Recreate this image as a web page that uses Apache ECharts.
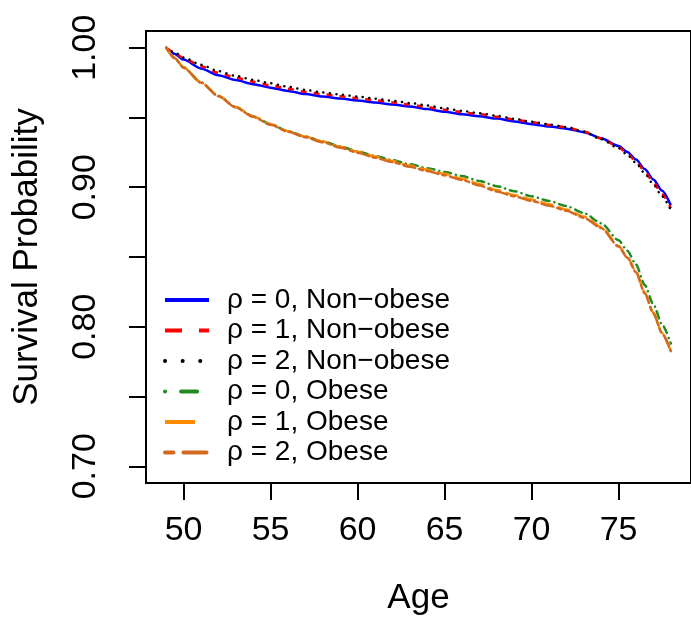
<!DOCTYPE html>
<html>
<head>
<meta charset="utf-8">
<script src="https://cdn.jsdelivr.net/npm/echarts@6/dist/echarts.min.js"></script>
<style>
  html, body { margin: 0; padding: 0; background: #fff; }
  #chart { width: 691px; height: 621px; }
</style>
</head>
<body>
<div id="chart"></div>
<script>
// ages
var ages = [49, 49.5, 50, 51, 52, 53, 54, 55, 56, 57, 58, 59, 60, 61, 62, 63, 64, 65, 66, 67, 68, 69, 70, 71, 72, 73, 74, 75, 75.5, 76, 76.5, 77, 77.5, 78];

// survival curves, one array per group
var nonObeseRho0 = [1.000, 0.9956, 0.9915, 0.9852, 0.9803, 0.9768, 0.9739, 0.9714, 0.9690, 0.9668, 0.9650, 0.9636, 0.9622, 0.9607, 0.9593, 0.9578, 0.9560, 0.9541, 0.9524, 0.9509, 0.9492, 0.9472, 0.9452, 0.9435, 0.9420, 0.9395, 0.9352, 0.9295, 0.9253, 0.9198, 0.9130, 0.9055, 0.8975, 0.8870];
var nonObeseRho1 = [1.000, 0.9962, 0.9925, 0.9868, 0.9820, 0.9785, 0.9756, 0.9730, 0.9706, 0.9684, 0.9666, 0.9652, 0.9638, 0.9623, 0.9608, 0.9593, 0.9575, 0.9556, 0.9539, 0.9523, 0.9506, 0.9486, 0.9466, 0.9447, 0.9430, 0.9400, 0.9350, 0.9288, 0.9242, 0.9185, 0.9115, 0.9035, 0.8950, 0.8850];
var nonObeseRho2 = [1.000, 0.9965, 0.9930, 0.9878, 0.9832, 0.9798, 0.9770, 0.9745, 0.9720, 0.9698, 0.9680, 0.9665, 0.9650, 0.9635, 0.9620, 0.9604, 0.9586, 0.9566, 0.9548, 0.9530, 0.9512, 0.9490, 0.9470, 0.9450, 0.9432, 0.9398, 0.9345, 0.9280, 0.9232, 0.9175, 0.9100, 0.9020, 0.8935, 0.8835];
var obeseRho0 = [1.000, 0.9925, 0.9858, 0.9752, 0.9655, 0.9575, 0.9508, 0.9452, 0.9402, 0.9363, 0.9328, 0.9292, 0.9258, 0.9225, 0.9195, 0.9165, 0.9137, 0.9110, 0.9080, 0.9045, 0.9008, 0.8972, 0.8935, 0.8902, 0.8865, 0.8815, 0.8742, 0.8620, 0.8545, 0.8445, 0.8300, 0.8160, 0.8015, 0.7880];
var obeseRho1 = [1.000, 0.9925, 0.9858, 0.9752, 0.9655, 0.9575, 0.9508, 0.9452, 0.9402, 0.9363, 0.9328, 0.9290, 0.9255, 0.9220, 0.9188, 0.9155, 0.9125, 0.9096, 0.9062, 0.9022, 0.8980, 0.8945, 0.8912, 0.8878, 0.8840, 0.8790, 0.8715, 0.8580, 0.8500, 0.8395, 0.8245, 0.8100, 0.7955, 0.7825];
var obeseRho2 = [1.000, 0.9925, 0.9857, 0.9750, 0.9652, 0.9572, 0.9505, 0.9448, 0.9398, 0.9358, 0.9322, 0.9284, 0.9248, 0.9212, 0.9180, 0.9147, 0.9116, 0.9086, 0.9052, 0.9012, 0.8970, 0.8935, 0.8902, 0.8868, 0.8832, 0.8782, 0.8708, 0.8575, 0.8495, 0.8390, 0.8240, 0.8095, 0.7952, 0.7825];

var seriesNames = ['ρ = 0, Non−obese', 'ρ = 1, Non−obese', 'ρ = 2, Non−obese', 'ρ = 0, Obese', 'ρ = 1, Obese', 'ρ = 2, Obese'];
var xTicks = [50, 55, 60, 65, 70, 75];
var yTicks = [0.70, 0.75, 0.80, 0.85, 0.90, 0.95, 1.00];
var yLabels = [0.70, 0.80, 0.90, 1.00];

var FONT = '"Liberation Sans", Arial, Helvetica, sans-serif';

// style per curve: colour, dash on the plot, dash in the legend
var styles = [
  { color: '#0000ff', dash: 'solid', legendDash: 'solid', cap: 'butt' },
  { color: '#ff0000', dash: [6, 7], legendDash: [17, 17], cap: 'butt' },
  { color: '#000000', dash: [0.1, 6.5], legendDash: [0.1, 17.5], cap: 'round' },
  { color: '#228b22', dash: [0.1, 5, 7, 5], legendDash: [0.1, 16, 16, 15], cap: 'round' },
  { color: '#ff8c00', dash: [13, 5], legendDash: [30, 20], cap: 'butt' },
  { color: '#d2691e', dash: [4, 4, 12, 4], legendDash: [8.5, 10, 23, 10], cap: 'round' }
];
var curves = [nonObeseRho0, nonObeseRho1, nonObeseRho2, obeseRho0, obeseRho1, obeseRho2];

function pairs(ys) {
  return ages.map(function (a, i) { return [a, ys[i]]; });
}

var series = curves.map(function (ys, i) {
  return {
    name: seriesNames[i],
    type: 'line',
    data: pairs(ys),
    symbol: 'none',
    smooth: 0.25,
    smoothMonotone: 'x',
    lineStyle: { color: styles[i].color, width: 2.5, type: styles[i].dash, cap: styles[i].cap },
    itemStyle: { color: styles[i].color },
    z: 2 + i
  };
});

var chart = echarts.init(document.getElementById('chart'), null, { renderer: 'canvas' });

chart.setOption({
  animation: false,
  backgroundColor: '#fff',
  grid: {
    left: 146, top: 31, width: 553, height: 453,
    show: true, borderColor: '#000', borderWidth: 2, backgroundColor: 'transparent'
  },
  legend: {
    orient: 'vertical',
    left: 163, top: 285,
    padding: 0,
    itemWidth: 44, itemHeight: 14, itemGap: 0.5,
    selectedMode: false,
    textStyle: { fontFamily: FONT, fontSize: 28, color: '#000', lineHeight: 30, padding: [0, 0, 0, 13] },
    data: seriesNames.map(function (n, i) {
      return {
        name: n,
        itemStyle: { opacity: 0 },
        lineStyle: { color: styles[i].color, width: 4, type: styles[i].legendDash, cap: styles[i].cap }
      };
    })
  },
  xAxis: {
    type: 'value',
    min: 47.84, max: 79.16,
    name: 'Age',
    nameLocation: 'middle',
    nameGap: 98,
    nameTextStyle: { fontFamily: FONT, fontSize: 35, color: '#000' },
    axisLine: { show: false },
    splitLine: { show: false },
    axisTick: { show: true, inside: false, length: 17, customValues: xTicks, lineStyle: { color: '#000', width: 2 } },
    axisLabel: { customValues: xTicks, margin: 31, fontFamily: FONT, fontSize: 34, color: '#000' }
  },
  yAxis: {
    type: 'value',
    min: 0.688, max: 1.012,
    name: 'Survival Probability',
    nameLocation: 'middle',
    nameRotate: 90,
    nameGap: 101,
    nameTextStyle: { fontFamily: FONT, fontSize: 35, color: '#000' },
    axisLine: { show: false },
    splitLine: { show: false },
    axisTick: { show: true, inside: false, length: 17, customValues: yTicks, lineStyle: { color: '#000', width: 2 } },
    axisLabel: {
      customValues: yLabels, rotate: 90, margin: 43,
      fontFamily: FONT, fontSize: 34, color: '#000',
      formatter: function (v) { return v.toFixed(2); }
    }
  },
  series: series
});
</script>
</body>
</html>
